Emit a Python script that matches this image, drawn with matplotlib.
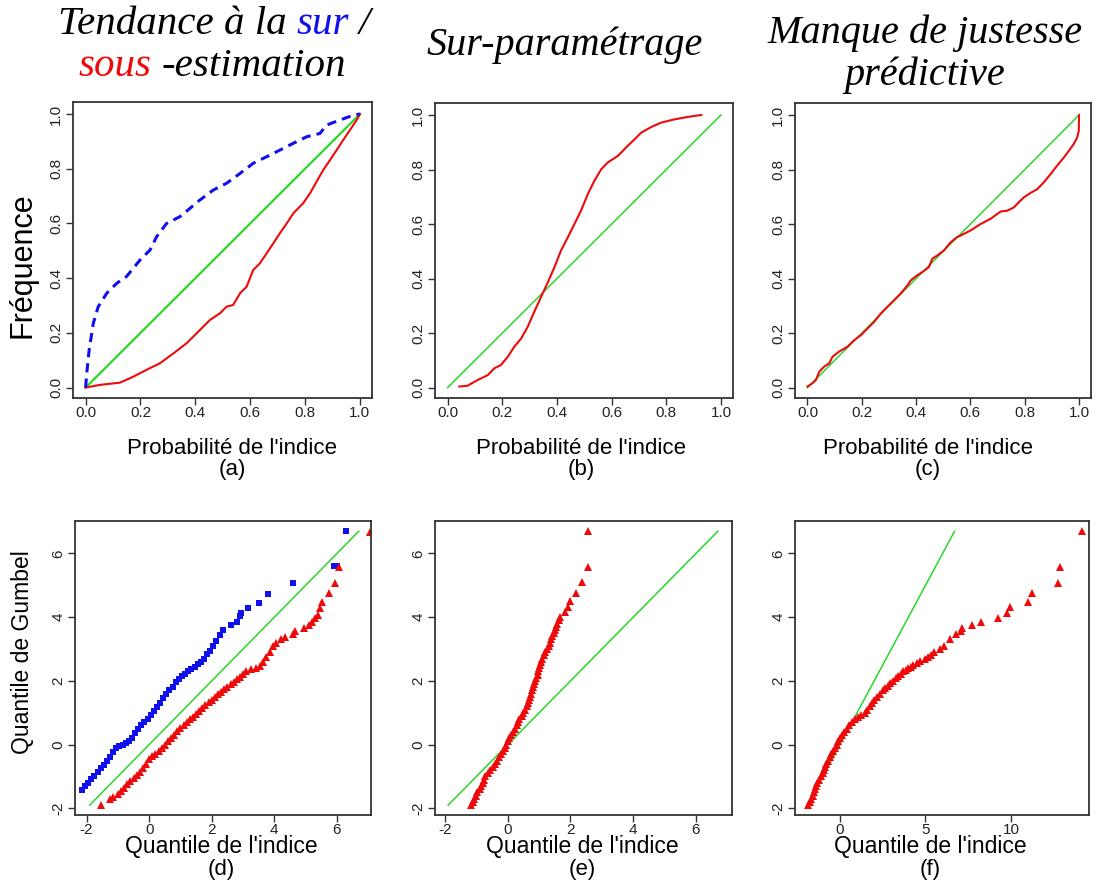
import matplotlib
matplotlib.use('Agg')
import matplotlib.pyplot as plt

plt.rcParams['axes.unicode_minus'] = False
plt.rcParams['font.family'] = ['Liberation Sans', 'DejaVu Sans']

# ---- data ----
# (a) PIT diagrams: over-estimation (blue) / under-estimation (red)
a_blue_x = [0, 0.004, 0.013, 0.028, 0.046, 0.077, 0.113, 0.149, 0.198, 0.235, 0.259, 0.295,
            0.344, 0.380, 0.417, 0.465, 0.514, 0.563, 0.611, 0.660, 0.708, 0.757, 0.806,
            0.854, 0.879, 0.927, 0.976, 1.0]
a_blue_y = [0, 0.052, 0.138, 0.235, 0.296, 0.345, 0.381, 0.406, 0.466, 0.503, 0.552, 0.600,
            0.625, 0.655, 0.686, 0.722, 0.747, 0.783, 0.820, 0.844, 0.868, 0.893, 0.917,
            0.929, 0.960, 0.978, 0.996, 1.0]
a_red_x = [0, 0.052, 0.125, 0.174, 0.222, 0.271, 0.320, 0.368, 0.417, 0.453, 0.490, 0.514,
           0.538, 0.563, 0.587, 0.611, 0.635, 0.660, 0.684, 0.708, 0.733, 0.757, 0.793,
           0.818, 0.842, 0.866, 0.891, 0.915, 0.939, 0.964, 0.988, 1.0]
a_red_y = [0, 0.010, 0.018, 0.040, 0.065, 0.089, 0.125, 0.162, 0.211, 0.247, 0.272, 0.296,
           0.302, 0.345, 0.369, 0.430, 0.454, 0.491, 0.527, 0.564, 0.600, 0.637, 0.674,
           0.710, 0.753, 0.795, 0.832, 0.868, 0.905, 0.942, 0.978, 1.0]

# (b) over-parametrisation
b_red_x = [0.043, 0.073, 0.110, 0.147, 0.171, 0.195, 0.220, 0.244, 0.269, 0.293, 0.317, 0.342,
           0.366, 0.391, 0.415, 0.440, 0.464, 0.488, 0.513, 0.537, 0.562, 0.586, 0.623,
           0.659, 0.684, 0.708, 0.745, 0.781, 0.830, 0.879, 0.928]
b_red_y = [0.004, 0.007, 0.028, 0.046, 0.071, 0.083, 0.113, 0.150, 0.180, 0.223, 0.278, 0.333,
           0.385, 0.442, 0.503, 0.552, 0.600, 0.649, 0.710, 0.759, 0.801, 0.826, 0.850,
           0.887, 0.911, 0.935, 0.956, 0.972, 0.984, 0.993, 1.0]

# (c) lack of predictive accuracy
c_red_x = [0.0, 0.018, 0.031, 0.043, 0.061, 0.080, 0.092, 0.116, 0.147, 0.172, 0.196, 0.221,
           0.245, 0.270, 0.306, 0.343, 0.368, 0.380, 0.404, 0.423, 0.447, 0.460, 0.478,
           0.502, 0.527, 0.551, 0.576, 0.600, 0.637, 0.674, 0.711, 0.735, 0.760, 0.778,
           0.797, 0.821, 0.846, 0.870, 0.895, 0.919, 0.944, 0.962, 0.980, 0.993, 0.999, 1.0]
c_red_y = [0.004, 0.016, 0.028, 0.058, 0.077, 0.089, 0.113, 0.132, 0.150, 0.174, 0.192, 0.217,
           0.241, 0.272, 0.308, 0.345, 0.375, 0.393, 0.412, 0.424, 0.442, 0.473, 0.485,
           0.503, 0.533, 0.552, 0.564, 0.576, 0.600, 0.619, 0.646, 0.649, 0.661, 0.680,
           0.698, 0.714, 0.728, 0.753, 0.783, 0.814, 0.844, 0.868, 0.893, 0.917, 0.942, 1.0]

diag_top = [0, 1]
diag_bottom = [-1.9, 6.7]

# (d) Gumbel QQ plots
d_blue_x = [-2.15, -2.05, -1.95, -1.85, -1.75, -1.65, -1.55, -1.45, -1.35, -1.25, -1.15, -1.05,
            -0.95, -0.85, -0.75, -0.65, -0.55, -0.45, -0.35, -0.25, -0.15, -0.05, 0.05, 0.15,
            0.25, 0.35, 0.45, 0.55, 0.65, 0.75, 0.85, 0.95, 1.05, 1.15, 1.25, 1.35, 1.45,
            1.55, 1.65, 1.75, 1.85, 1.95, 2.05, 2.15, 2.25, 2.35, 2.6, 2.8, 2.9, 2.95, 3.15,
            3.5, 3.8, 4.6, 5.92, 6.0, 6.3]
d_blue_y = [-1.42, -1.3, -1.2, -1.08, -0.97, -0.85, -0.75, -0.63, -0.52, -0.38, -0.22, -0.12,
            -0.05, 0.0, 0.05, 0.12, 0.22, 0.35, 0.5, 0.62, 0.7, 0.8, 0.92, 1.05,
            1.18, 1.32, 1.45, 1.58, 1.7, 1.82, 1.95, 2.05, 2.15, 2.22, 2.3, 2.38, 2.45,
            2.52, 2.6, 2.7, 2.85, 2.95, 3.1, 3.25, 3.45, 3.6, 3.75, 3.85, 4.05, 4.12, 4.28,
            4.45, 4.72, 5.07, 5.6, 5.6, 6.7]
d_red_x = [-1.55, -1.25, -1.15, -1.0, -0.9, -0.8, -0.7, -0.6, -0.5, -0.4, -0.3, -0.2, -0.1,
           0.0, 0.1, 0.2, 0.3, 0.4, 0.5, 0.6, 0.7, 0.8, 0.9, 1.0, 1.1, 1.2, 1.3, 1.4, 1.5,
           1.6, 1.7, 1.8, 1.9, 2.0, 2.1, 2.2, 2.3, 2.4, 2.5, 2.6, 2.7, 2.8, 2.9, 3.0, 3.1,
           3.25, 3.4, 3.55, 3.65, 3.75, 3.85, 3.95, 4.05, 4.2, 4.35, 4.6, 4.65, 4.95, 5.1,
           5.2, 5.3, 5.4, 5.47, 5.52, 5.74, 5.95, 6.08, 7.05]
d_red_y = [-1.89, -1.72, -1.65, -1.55, -1.45, -1.35, -1.25, -1.15, -1.05, -0.95, -0.85, -0.72,
           -0.6, -0.45, -0.35, -0.3, -0.2, -0.1, 0.0, 0.1, 0.2, 0.3, 0.42, 0.52, 0.62, 0.72,
           0.8, 0.88, 0.96, 1.05, 1.15, 1.25, 1.33, 1.4, 1.5, 1.58, 1.65, 1.75, 1.82, 1.9,
           1.98, 2.05, 2.12, 2.22, 2.32, 2.36, 2.4, 2.48, 2.6, 2.75, 2.92, 3.1, 3.2, 3.32,
           3.38, 3.48, 3.58, 3.65, 3.75, 3.86, 3.96, 4.07, 4.28, 4.49, 4.75, 5.06, 5.59, 6.69]

# (e)
e_red_x = [-1.17, -1.12, -1.07, -1.02, -0.97, -0.9, -0.85, -0.8, -0.76, -0.72, -0.64, -0.56,
           -0.48, -0.42, -0.35, -0.28, -0.22, -0.16, -0.1, -0.05, 0.0, 0.05, 0.1, 0.16, 0.23,
           0.28, 0.32, 0.37, 0.44, 0.5, 0.54, 0.6, 0.64, 0.68, 0.71, 0.74, 0.78, 0.82, 0.85,
           0.87, 0.91, 0.95, 0.98, 1.01, 1.03, 1.06, 1.1, 1.14, 1.2, 1.24, 1.3, 1.35, 1.38,
           1.42, 1.47, 1.51, 1.55, 1.58, 1.63, 1.67, 1.81, 1.91, 1.99, 2.17, 2.38, 2.55, 2.55]
e_red_y = [-1.89, -1.8, -1.7, -1.6, -1.5, -1.4, -1.3, -1.2, -1.1, -1.0, -0.9, -0.8,
           -0.7, -0.6, -0.5, -0.4, -0.3, -0.2, -0.1, 0.0, 0.1, 0.2, 0.3, 0.4, 0.5,
           0.6, 0.7, 0.8, 0.9, 1.0, 1.1, 1.2, 1.3, 1.4, 1.5, 1.6, 1.7, 1.8, 1.9,
           2.0, 2.1, 2.2, 2.3, 2.4, 2.5, 2.6, 2.7, 2.8, 2.9, 3.0, 3.1, 3.2, 3.3,
           3.4, 3.5, 3.6, 3.7, 3.8, 3.9, 4.0, 4.17, 4.33, 4.51, 4.75, 5.09, 5.59, 6.71]

# (f)
f_red_x = [-1.85, -1.78, -1.7, -1.6, -1.52, -1.45, -1.38, -1.32, -1.25, -1.12, -1.02, -0.95,
           -0.88, -0.8, -0.7, -0.6, -0.5, -0.4, -0.3, -0.19, -0.1, 0.0, 0.1, 0.22, 0.39,
           0.52, 0.7, 0.88, 1.05, 1.2, 1.46, 1.6, 1.75, 1.88, 2.0, 2.14, 2.32, 2.5, 2.65,
           2.8, 2.95, 3.12, 3.3, 3.4, 3.55, 3.7, 3.85, 4.0, 4.15, 4.29, 4.5, 4.7, 4.95, 5.17,
           5.35, 5.5, 5.85, 6.1, 6.43, 6.78, 7.1, 7.16, 7.74, 8.25, 9.26, 9.75, 9.94,
           11.0, 11.25, 12.77, 12.87, 14.15]
f_red_y = [-1.89, -1.8, -1.7, -1.6, -1.5, -1.4, -1.3, -1.2, -1.1, -1.0, -0.9, -0.8,
           -0.7, -0.6, -0.5, -0.4, -0.3, -0.2, -0.1, 0.0, 0.1, 0.2, 0.3, 0.4, 0.5,
           0.6, 0.7, 0.8, 0.86, 0.92, 1.0, 1.1, 1.2, 1.3, 1.4, 1.5, 1.6, 1.7, 1.78,
           1.85, 1.92, 2.0, 2.08, 2.15, 2.22, 2.3, 2.35, 2.4, 2.45, 2.5, 2.56, 2.62, 2.68, 2.75,
           2.82, 2.9, 3.0, 3.1, 3.33, 3.46, 3.56, 3.65, 3.75, 3.86, 3.99, 4.14, 4.31,
           4.49, 4.75, 5.08, 5.59, 6.71]

top_ticks = [0.0, 0.2, 0.4, 0.6, 0.8, 1.0]
gumbel_ticks = [-2, 0, 2, 4, 6]

BLUE = '#1010ee'
RED = '#ee0a0a'
GREEN = '#2ad62a'
AXC = '#333333'

W, H = 1097, 886
fig = plt.figure(figsize=(W / 100, H / 100), dpi=100)


def px_axes(l, t, r, b):
    return fig.add_axes([l / W, 1 - b / H, (r - l) / W, (b - t) / H])


def r_style(ax, xlim, ylim, xticks, yticks, xlabs, ylabs):
    ax.set_xlim(xlim)
    ax.set_ylim(ylim)
    ax.set_xticks(xticks)
    ax.set_xticklabels(xlabs)
    ax.set_yticks(yticks)
    ax.set_yticklabels(ylabs, rotation=90, va='center')
    ax.tick_params(direction='out', length=5, width=1, colors=AXC,
                   labelsize=11, labelcolor='#222222', pad=2)
    ax.tick_params(axis='x', pad=1)
    for s in ax.spines.values():
        s.set_linewidth(1.3)
        s.set_color(AXC)


def ftext(x, y, s, **kw):
    return fig.text(x / W, 1 - y / H, s, ha='center', va='center', **kw)


top_labs = ['%.1f' % v for v in top_ticks]
g_labs = [str(v) for v in gumbel_ticks]

# ---- top row ----
ax_a = px_axes(73, 102, 372, 398)
ax_a.plot(diag_top, diag_top, color=GREEN, lw=1.6)
ax_a.plot(a_red_x, a_red_y, color=RED, lw=1.5)
ax_a.plot(a_blue_x, a_blue_y, color=BLUE, lw=2.2, dashes=(3, 2))
r_style(ax_a, (-0.046, 1.044), (-0.038, 1.044), top_ticks, top_ticks, top_labs, top_labs)

ax_b = px_axes(435, 103, 733, 398)
ax_b.plot(diag_top, diag_top, color=GREEN, lw=1.1)
ax_b.plot(b_red_x, b_red_y, color=RED, lw=1.5)
r_style(ax_b, (-0.046, 1.044), (-0.038, 1.044), top_ticks, top_ticks, top_labs, top_labs)

ax_c = px_axes(795, 103, 1091, 398)
ax_c.plot(diag_top, diag_top, color=GREEN, lw=1.1)
ax_c.plot(c_red_x, c_red_y, color=RED, lw=1.5)
r_style(ax_c, (-0.046, 1.044), (-0.038, 1.044), top_ticks, top_ticks, top_labs, top_labs)

# ---- bottom row ----
SQ = dict(ls='none', marker='s', ms=4.4, color=BLUE, mew=0)
TRI = dict(ls='none', marker='^', ms=5.8, color=RED, mew=0)

ax_d = px_axes(75, 521, 371, 815)
ax_d.plot(diag_bottom, diag_bottom, color=GREEN, lw=1.1)
ax_d.plot(d_blue_x, d_blue_y, **SQ)
ax_d.plot(d_red_x, d_red_y, **TRI)
r_style(ax_d, (-2.37, 7.09), (-2.21, 7.02), gumbel_ticks, gumbel_ticks, g_labs, g_labs)

ax_e = px_axes(435, 521, 732, 815)
ax_e.plot(diag_bottom, diag_bottom, color=GREEN, lw=1.1)
ax_e.plot(e_red_x, e_red_y, **TRI)
r_style(ax_e, (-2.32, 7.15), (-2.21, 7.02), gumbel_ticks, gumbel_ticks, g_labs, g_labs)

ax_f = px_axes(795, 521, 1089, 815)
ax_f.plot(diag_bottom, diag_bottom, color=GREEN, lw=1.1)
ax_f.plot(f_red_x, f_red_y, **TRI)
r_style(ax_f, (-2.63, 14.56), (-2.21, 7.02), [0, 5, 10], gumbel_ticks,
        ['0', '5', '10'], g_labs)

# ---- axis labels ----
for xc, tag in [(232, '(a)'), (581, '(b)'), (928, '(c)')]:
    ftext(xc, 448, "Probabilité de l'indice", fontsize=16)
    ftext(xc, 469, tag, fontsize=16)
for xc, tag in [(221, '(d)'), (582, '(e)'), (930, '(f)')]:
    ftext(xc, 847, "Quantile de l'indice", fontsize=16.5)
    ftext(xc, 870, tag, fontsize=16)

ftext(23, 265, 'Fréquence', fontsize=22, rotation=90)
ftext(23, 652, 'Quantile de Gumbel', fontsize=16.5, rotation=90)

# ---- titles (Times-like italic) ----
tfont = dict(family='Liberation Serif', style='italic')
renderer = fig.canvas.get_renderer()


def rich_line(xc, y, parts, size):
    # measure each run, then lay them out centred on xc
    sp = fig.text(0, 0, 'n n', fontsize=size, **tfont)
    nn = fig.text(0, 0, 'nn', fontsize=size, **tfont)
    gap = sp.get_window_extent(renderer).width - nn.get_window_extent(renderer).width
    sp.remove()
    nn.remove()
    items = []
    for s, c in parts:
        t = fig.text(0, 1 - y / H, s, color=c, fontsize=size, va='center', **tfont)
        items.append((t, t.get_window_extent(renderer).width))
    total = sum(w for _, w in items) + gap * (len(items) - 1)
    x = xc - total / 2
    for t, w in items:
        t.set_x(x / W)
        x += w + gap


rich_line(214, 24, [('Tendance à la', 'black'), ('sur', BLUE), ('/', 'black')], 29.5)
rich_line(212, 66, [('sous', RED), ('-estimation', 'black')], 29.5)
ftext(565, 45, 'Sur-paramétrage', fontsize=29, **tfont)
ftext(925, 33, 'Manque de justesse', fontsize=29, **tfont)
ftext(925, 75, 'prédictive', fontsize=29, **tfont)

fig.savefig('out.png', dpi=100)
